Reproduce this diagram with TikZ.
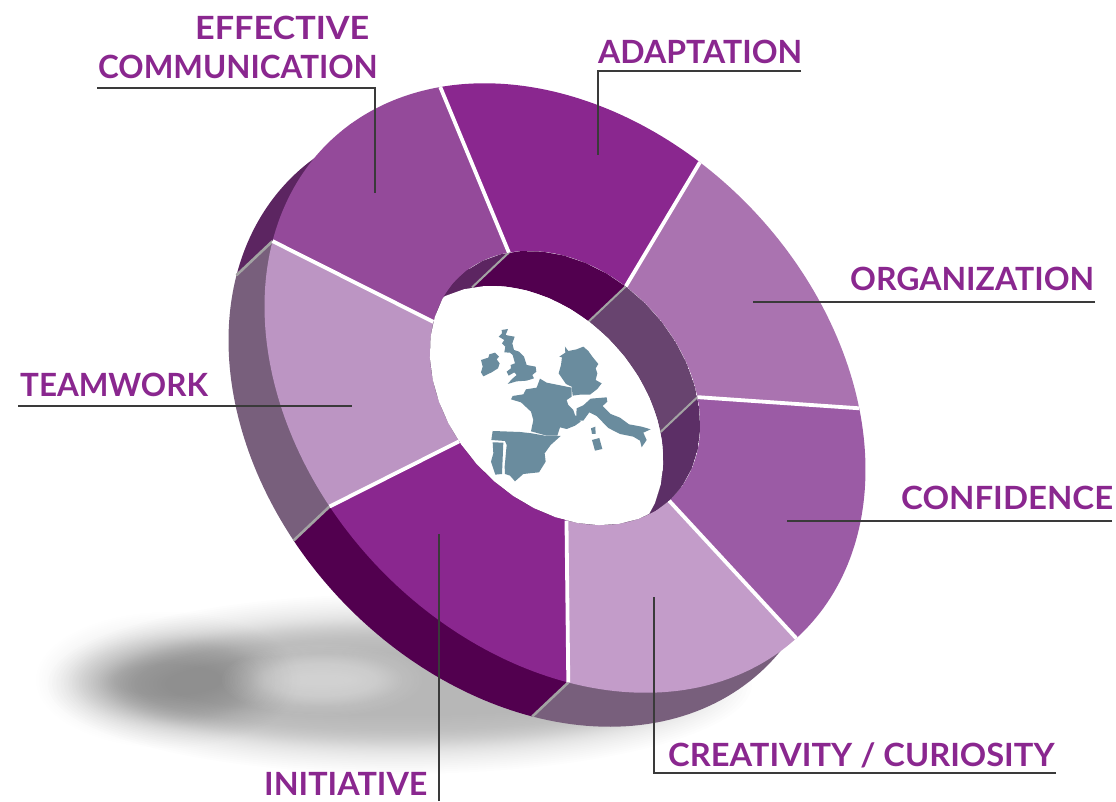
\documentclass[tikz,border=0pt]{standalone}
\usepackage{fontspec}
\usepackage{graphicx}
\setmainfont{Lato}
\definecolor{lab}{HTML}{8A278F}
\definecolor{fEff}{HTML}{944A9A}
\definecolor{fAda}{HTML}{8A278F}
\definecolor{fOrg}{HTML}{AA73B0}
\definecolor{fCon}{HTML}{9B5BA5}
\definecolor{fCre}{HTML}{C39CC9}
\definecolor{fIni}{HTML}{8A278F}
\definecolor{fTea}{HTML}{BC95C3}
\definecolor{sDark}{HTML}{5C2561}
\definecolor{sDeep}{HTML}{52004F}
\definecolor{sGrey}{HTML}{785F7C}
\definecolor{wOrg}{HTML}{68446F}
\definecolor{wCon}{HTML}{5C2F66}
\definecolor{mapc}{HTML}{6A8C9E}
\definecolor{leader}{HTML}{3A3A3A}
\newcommand{\ringarc}[5]{plot[domain=#4:#5,samples=40,variable=\t]({#2+565+#1*(341*cos(\t)*0.688-259*sin(\t)*0.725)},{#3+388+#1*(341*cos(\t)*0.725+259*sin(\t)*0.688)})}
\newcommand{\ringarcL}[5]{-- plot[domain=#4:#5,samples=40,variable=\t]({#2+565+#1*(341*cos(\t)*0.688-259*sin(\t)*0.725)},{#3+388+#1*(341*cos(\t)*0.725+259*sin(\t)*0.688)})}
\newcommand{\ringpt}[4]{({#2+565+#1*(341*cos(#4)*0.688-259*sin(#4)*0.725)},{#3+388+#1*(341*cos(#4)*0.725+259*sin(#4)*0.688)})}
\newcommand{\sector}[3]{\fill[#1] \ringarc{1}{0}{0}{#2}{#3} \ringarcL{0.45}{0}{0}{#3}{#2} -- cycle;}
\newcommand{\sidewedge}[3]{\fill[#1] \ringarc{1}{-36}{34}{#2}{#3} -- \ringpt{1}{0}{0}{#3} -- (565,388) -- \ringpt{1}{0}{0}{#2} -- cycle;}
\newcommand{\wallwedge}[3]{\fill[#1] \ringarc{0.45}{0}{0}{#2}{#3} \ringarcL{0.45}{-37}{35}{#3}{#2} -- cycle;}
\newcommand{\softblob}[8]{\foreach \k in {0,...,39}{\fill[#7,opacity=#8] (#1,#2) ellipse [x radius={(#3+(#5-#3)*(\k/39+0.06*sin(360*\k/39)))*1pt}, y radius={(#4+(#6-#4)*(\k/39+0.06*sin(360*\k/39)))*1pt}];}}
\newcommand{\fitw}[2]{\scalebox{#1}[1]{#2}}
\tikzset{
  x=1pt,y=-1pt,
  lbl/.style={anchor=base west,inner sep=0pt,text=lab,font=\fontsize{32}{34}\selectfont\bfseries},
  leaderline/.style={draw=leader,line width=1.2pt},
  spoke/.style={draw=white,line width=3.8pt},
  edgeline/.style={draw=black!36,line width=2.6pt},
  mapshape/.style={fill=mapc},
}
\begin{document}
\begin{tikzpicture}
\useasboundingbox (0,0) rectangle (1116,801);
% shadow
\softblob{400}{684}{352}{90}{235}{32}{black}{0.0096}
\softblob{168}{680}{132}{68}{55}{16}{black}{0.0051}
\softblob{322}{680}{100}{36}{25}{3}{white}{0.016}
% side
\sidewedge{sGrey}{-8}{50.7}
\sidewedge{sDeep}{50.7}{102.9}
\sidewedge{sGrey}{102.9}{154.6}
\sidewedge{sDark}{154.6}{186}
\draw[edgeline] \ringpt{1}{0}{0}{50.7} -- \ringpt{1}{-36}{34}{50.7};
\draw[edgeline] \ringpt{1}{0}{0}{102.9} -- \ringpt{1}{-36}{34}{102.9};
\draw[edgeline] \ringpt{1}{0}{0}{154.6} -- \ringpt{1}{-36}{34}{154.6};
% top faces
\sector{fEff}{154.6}{206.8}
\sector{fAda}{206.8}{258}
\sector{fOrg}{258}{309.6}
\sector{fCon}{309.6}{361}
\sector{fCre}{1}{50.7}
\sector{fIni}{50.7}{102.9}
\sector{fTea}{102.9}{154.6}
\foreach \t in {154.6,206.8,258,309.6,1,50.7,102.9}{
  \draw[spoke] \ringpt{1}{0}{0}{\t} -- \ringpt{0.45}{0}{0}{\t};
}
% hole
\begin{scope}
\clip \ringarc{0.45}{0}{0}{0}{360} -- cycle;
\wallwedge{sDark}{140}{206.8}
\wallwedge{sDeep}{206.8}{258}
\wallwedge{wOrg}{258}{309.6}
\wallwedge{wCon}{309.6}{385}
\foreach \t in {206.8,258,309.6}{
  \draw[edgeline,line width=2pt] \ringpt{0.45}{0}{0}{\t} -- \ringpt{0.45}{-37}{35}{\t};
}
\fill[white] \ringarc{0.45}{-37}{35}{0}{360} -- cycle;
\end{scope}
% map
\begin{scope}[shift={(420,240)},x=0.3333pt,y=-0.3333pt]
\fill[mapshape] (245,270)--(264,267)--(257,285)--(272,288)--(284,290)--(277,310)--(282,330)--(297,335)--(312,350)--(320,375)--(347,380)--(349,395)--(337,405)--(342,415)--(320,422)--(290,424)--(263,432)--(275,418)--(290,405)--(283,397)--(266,407)--(260,395)--(273,385)--(272,375)--(285,370)--(278,345)--(270,338)--(253,337)--(256,320)--(246,310)--(253,300)--(236,290)--(246,280)--cycle;
\fill[mapshape] (183,360)--(205,353)--(208,343)--(225,338)--(237,350)--(230,358)--(239,370)--(234,385)--(215,397)--(190,409)--(183,397)--(188,380)--cycle;
\fill[mapshape] (435,320)--(445,333)--(470,328)--(490,320)--(505,333)--(517,350)--(535,372)--(527,385)--(532,400)--(527,420)--(545,430)--(532,447)--(510,464)--(480,464)--(458,467)--(455,440)--(438,432)--(416,400)--(423,375)--(426,352)--(418,350)--(436,338)--cycle;
\fill[mapshape] (360,416)--(380,428)--(405,433)--(455,443)--(455,470)--(440,480)--(445,495)--(460,510)--(465,525)--(482,545)--(465,557)--(440,567)--(420,562)--(412,587)--(380,587)--(333,574)--(340,540)--(333,515)--(303,487)--(273,478)--(278,468)--(310,463)--(318,448)--(350,443)--cycle;
\fill[mapshape] (470,505)--(490,496)--(512,476)--(560,472)--(562,485)--(548,498)--(572,522)--(600,533)--(627,553)--(665,560)--(692,568)--(670,578)--(680,600)--(665,622)--(660,602)--(640,590)--(600,582)--(565,564)--(530,528)--(508,517)--(490,542)--(468,542)--cycle;
\fill[mapshape] (516,600)--(538,594)--(547,627)--(525,632)--cycle;
\fill[mapshape] (513,565)--(526,560)--(527,582)--(516,582)--cycle;
\fill[mapshape] (218,573)--(300,576)--(335,580)--(380,588)--(422,588)--(392,615)--(374,640)--(377,665)--(357,697)--(310,702)--(285,724)--(270,707)--(255,702)--(254,680)--(260,615)--(255,603)--(214,600)--cycle;
\fill[mapshape] (218,607)--(250,608)--(246,702)--(226,704)--(213,665)--(220,640)--cycle;
\end{scope}
% label anchors
\coordinate (effA) at (97,88); \coordinate (effB) at (375,88); \coordinate (effC) at (375,193);
\coordinate (adaA) at (801,71); \coordinate (adaB) at (598,71); \coordinate (adaC) at (598,155);
\coordinate (orgA) at (1095,302); \coordinate (orgB) at (753,302);
\coordinate (conA) at (1112,521); \coordinate (conB) at (787,521);
\coordinate (creA) at (1056,773); \coordinate (creB) at (654,773); \coordinate (creC) at (654,597);
\coordinate (iniA) at (439,801); \coordinate (iniB) at (439,534);
\coordinate (teaA) at (18,406); \coordinate (teaB) at (352,406);
\draw[leaderline] (effA) -- (effB) -- (effC);
\draw[leaderline] (adaA) -- (adaB) -- (adaC);
\draw[leaderline] (orgA) -- (orgB);
\draw[leaderline] (conA) -- (conB);
\draw[leaderline] (creA) -- (creB) -- (creC);
\draw[leaderline] (iniA) -- (iniB);
\draw[leaderline] (teaA) -- (teaB);
% labels
\node[lbl] (tEff1) at (195,39) {\fitw{1.068}{EFFECTIVE}};
\node[lbl] (tEff2) at (98,78) {\fitw{0.98}{COMMUNICATION}};
\node[lbl] (tAda) at (598,63) {ADAPTATION};
\node[lbl] (tOrg) at (850,290) {ORGANIZATION};
\node[lbl] (tCon) at (901,509) {\fitw{1.03}{CONFIDENCE}};
\node[lbl] (tCre) at (668,766) {\fitw{1.02}{CREATIVITY / CURIOSITY}};
\node[lbl] (tIni) at (264,795) {\fitw{1.01}{INITIATIVE}};
\node[lbl] (tTea) at (20,396) {\fitw{0.98}{TEAMWORK}};
\end{tikzpicture}
\end{document}
